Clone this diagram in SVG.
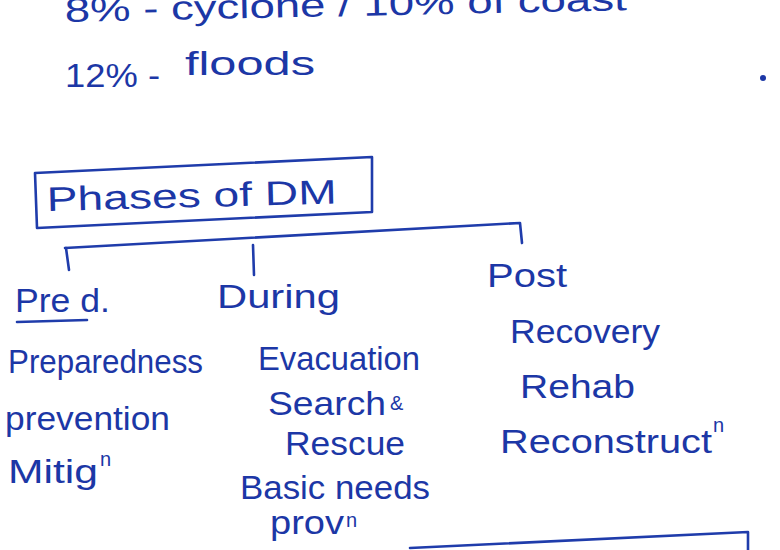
<svg xmlns="http://www.w3.org/2000/svg" width="780" height="550" viewBox="0 0 780 550">
  <style>
    .ink { fill: #1c37a6; font-family: "Liberation Sans", "DejaVu Sans", sans-serif; font-size: 34px; }
    .sup { font-size: 20px; }
    .line { fill: none; stroke: #1f3cab; stroke-width: 2.6; stroke-linecap: round; stroke-linejoin: round; }
  </style>
  <rect width="780" height="550" fill="#ffffff"/>

  <g id="notes-top">
    <text class="ink" x="65" y="22" textLength="562" lengthAdjust="spacingAndGlyphs" transform="rotate(-1.2 65 22)">8% - cyclone / 10% of coast</text>
    <text class="ink" x="65" y="87" textLength="95" lengthAdjust="spacingAndGlyphs">12% -</text>
    <text class="ink" x="185" y="75" textLength="130" lengthAdjust="spacingAndGlyphs">floods</text>
    <circle cx="763" cy="78" r="3" fill="#1c37a6"/>
  </g>

  <g id="node-phases">
    <path class="line" d="M35,173 L372,157 L372,212 L37,228 Z"/>
    <text class="ink" x="47" y="211" textLength="290" lengthAdjust="spacingAndGlyphs" font-size="36" transform="rotate(-1.5 47 211)">Phases of DM</text>
  </g>

  <g id="connectors">
    <path class="line" d="M65,248 L520,223 L522,243"/>
    <path class="line" d="M66,248 L69,270"/>
    <path class="line" d="M253,245 L254,275"/>
  </g>

  <g id="node-pre">
    <text class="ink" x="15" y="312" textLength="95" lengthAdjust="spacingAndGlyphs">Pre d.</text>
    <path class="line" d="M17,322 L87,320"/>
    <text class="ink" x="8" y="373" textLength="195" lengthAdjust="spacingAndGlyphs">Preparedness</text>
    <text class="ink" x="5" y="430" textLength="165" lengthAdjust="spacingAndGlyphs">prevention</text>
    <text class="ink" x="8" y="483" textLength="90" lengthAdjust="spacingAndGlyphs">Mitig</text>
    <text class="ink sup" x="100" y="466">n</text>
  </g>

  <g id="node-during">
    <text class="ink" x="217" y="308" textLength="123" lengthAdjust="spacingAndGlyphs">During</text>
    <text class="ink" x="258" y="370" textLength="162" lengthAdjust="spacingAndGlyphs">Evacuation</text>
    <text class="ink" x="268" y="415" textLength="118" lengthAdjust="spacingAndGlyphs">Search</text>
    <text class="ink sup" x="390" y="410">&amp;</text>
    <text class="ink" x="285" y="455" textLength="120" lengthAdjust="spacingAndGlyphs">Rescue</text>
    <text class="ink" x="240" y="499" textLength="190" lengthAdjust="spacingAndGlyphs">Basic needs</text>
    <text class="ink" x="270" y="534" textLength="74" lengthAdjust="spacingAndGlyphs" font-size="31">prov</text>
    <text class="ink sup" x="346" y="527">n</text>
  </g>

  <g id="node-post">
    <text class="ink" x="487" y="287" textLength="80" lengthAdjust="spacingAndGlyphs">Post</text>
    <text class="ink" x="510" y="343" textLength="150" lengthAdjust="spacingAndGlyphs">Recovery</text>
    <text class="ink" x="520" y="398" textLength="115" lengthAdjust="spacingAndGlyphs">Rehab</text>
    <text class="ink" x="500" y="453" textLength="212" lengthAdjust="spacingAndGlyphs">Reconstruct</text>
    <text class="ink sup" x="713" y="432">n</text>
  </g>

  <g id="next-box">
    <path class="line" d="M410,548 L748,532 L748,552"/>
  </g>
</svg>
